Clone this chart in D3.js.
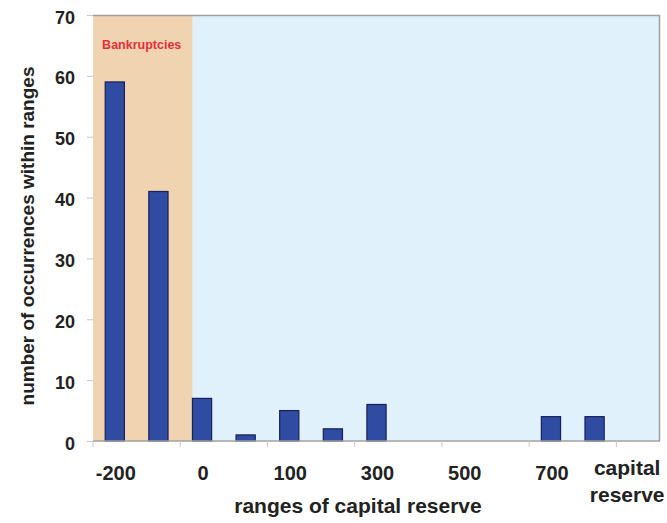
<!DOCTYPE html>
<html>
<head>
<meta charset="utf-8">
<script src="https://cdn.jsdelivr.net/npm/d3@7"></script>
<style>
  body { margin: 0; background: #fff; }
  svg { display: block; font-family: 'Liberation Sans', Arial, sans-serif; }
</style>
</head>
<body>
<svg id="chart"></svg>
<script>
// Histogram of capital reserve ranges, bankruptcy band shaded.

const SLOTS = [0, 1, 2, 3, 4, 5, 6, 7, 8, 9, 10, 11, 12];
const COUNTS = [59, 41, 7, 1, 5, 2, 6, 0, 0, 0, 4, 4, 0];
const TICK_LABELS = ['-200', '', '0', '', '100', '', '300', '', '500', '', '700', '', 'capital reserve'];
const Y_TICKS = [0, 10, 20, 30, 40, 50, 60, 70];
const BANKRUPT_SLOTS = [0, 1];

const BAR = '#2F4CA2';
const BAR_EDGE = '#17205A';
const TAN = '#F0D4B1';
const SKY = '#E0F1FB';
const FRAME = '#A0A0A0';
const INK = '#222';

const W = 667, H = 523;
const m = { top: 15, right: 7, bottom: 82, left: 93 };
const iw = W - m.left - m.right;
const ih = H - m.top - m.bottom;

const svg = d3.select('#chart').attr('width', W).attr('height', H);
const root = svg.append('g').attr('transform', `translate(${m.left},${m.top})`);

const x = d3.scaleBand().domain(SLOTS).range([0, iw]).paddingInner(0.56).paddingOuter(0.28);
const y = d3.scaleLinear().domain([0, 70]).range([ih, 0]);
const step = x.step();

// backgrounds
root.append('rect').attr('x', 0).attr('y', 0).attr('width', iw).attr('height', ih).attr('fill', SKY);
const tanEnd = x(BANKRUPT_SLOTS[BANKRUPT_SLOTS.length - 1] + 1);
root.append('rect').attr('x', 0).attr('y', 0).attr('width', tanEnd).attr('height', ih).attr('fill', TAN);

// frame (top, right)
root.append('path')
  .attr('d', `M0,0.5H${iw - 0.5}V${ih}`)
  .attr('fill', 'none').attr('stroke', FRAME).attr('stroke-width', 1.5);

root.append('text')
  .attr('x', tanEnd / 2 - 1).attr('y', 34)
  .attr('text-anchor', 'middle').attr('fill', '#E3303A')
  .style('font-size', '12.5px').style('font-weight', '700')
  .text('Bankruptcies');

// bars
root.selectAll('rect.bar').data(SLOTS.filter(i => COUNTS[i] > 0)).enter().append('rect')
  .attr('class', 'bar')
  .attr('x', i => x(i)).attr('width', x.bandwidth())
  .attr('y', i => y(COUNTS[i])).attr('height', i => ih - y(COUNTS[i]))
  .attr('fill', BAR).attr('stroke', BAR_EDGE).attr('stroke-width', 1.2);

// y axis
root.append('g')
  .call(d3.axisLeft(y).tickValues(Y_TICKS).tickSize(6).tickPadding(12))
  .call(g => g.select('.domain').remove())
  .call(g => g.selectAll('line').attr('stroke', '#C8C8C8'))
  .call(g => g.selectAll('text').attr('fill', INK).attr('dy', '0.45em')
    .style('font-size', '18px').style('font-weight', '700').style('font-family', 'Liberation Sans, Arial, sans-serif'));

// x axis: baseline + tick marks between every other slot
root.append('line').attr('x1', 0).attr('x2', iw).attr('y1', ih).attr('y2', ih)
  .attr('stroke', FRAME).attr('stroke-width', 1.5);
const tickPos = d3.range(0, SLOTS.length + 1, 2).map(i => i * step).filter(p => p < iw - 1);
root.selectAll('line.xt').data(tickPos).enter().append('line')
  .attr('class', 'xt')
  .attr('x1', d => d).attr('x2', d => d).attr('y1', ih).attr('y2', ih + 6)
  .attr('stroke', '#C8C8C8');

const xl = root.append('g').selectAll('text').data(SLOTS.filter(i => TICK_LABELS[i])).enter().append('text')
  .attr('text-anchor', 'middle').attr('fill', INK)
  .style('font-weight', '700');
xl.each(function (i) {
  const t = d3.select(this);
  const cx = x(i) + x.bandwidth() / 2;
  const words = TICK_LABELS[i].split(' ');
  if (words.length === 1) {
    t.attr('x', cx + 1).attr('y', ih + 39).style('font-size', '20px').text(words[0]);
  } else {
    t.attr('x', cx - 11).attr('y', ih + 34).style('font-size', '21px');
    words.forEach((w, k) => t.append('tspan').attr('x', cx - 11).attr('dy', k ? 27 : 0).text(w));
  }
});

// axis titles
svg.append('text')
  .attr('x', 358).attr('y', 513).attr('text-anchor', 'middle').attr('fill', INK)
  .style('font-size', '21px').style('font-weight', '700')
  .text('ranges of capital reserve');
svg.append('text')
  .attr('transform', 'translate(34,236) rotate(-90)')
  .attr('text-anchor', 'middle').attr('fill', INK)
  .style('font-size', '19px').style('font-weight', '700')
  .text('number of occurrences within ranges');
</script>
</body>
</html>
